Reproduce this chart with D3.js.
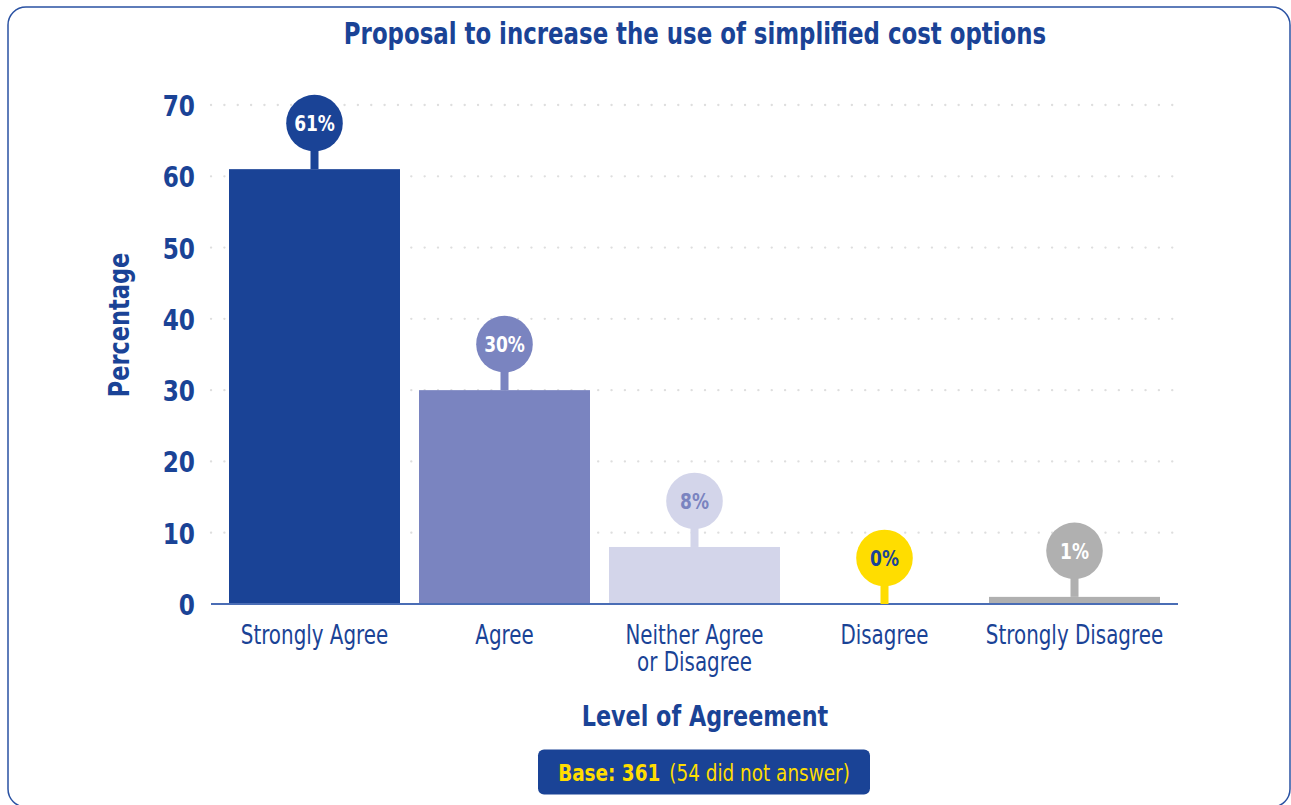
<!DOCTYPE html>
<html>
<head>
<meta charset="utf-8">
<script src="https://cdn.jsdelivr.net/npm/d3@7"></script>
<style>
  html, body { margin: 0; padding: 0; background: #ffffff; }
  svg { display: block; }
  text { font-family: "DejaVu Sans Condensed", "Liberation Sans Narrow", sans-serif; }
</style>
</head>
<body>
<svg id="chart" width="1291" height="805"></svg>
<script>
// ---- data ----
const categories = ["Strongly Agree", "Agree", "Neither Agree\nor Disagree", "Disagree", "Strongly Disagree"];
const values = [61, 30, 8, 0, 1];
const valueLabels = ["61%", "30%", "8%", "0%", "1%"];
const yTicks = [0, 10, 20, 30, 40, 50, 60, 70];
const titleText = "Proposal to increase the use of simplified cost options";
const yTitle = "Percentage";
const xTitle = "Level of Agreement";
const baseBold = "Base: 361";
const baseRest = "(54 did not answer)";

// ---- styles ----
const navy = "#1a4396";
const barColors = ["#1a4396", "#7a84c0", "#d3d5ea", "#ffdd00", "#b0b0b0"];
const bubbleText = ["#ffffff", "#ffffff", "#7a84c0", "#1a4396", "#ffffff"];

// horizontally condense text (reference uses a condensed face)
function squeeze(sel, f) {
  let last = 0;
  sel.each(function() {
    const w = this.getComputedTextLength();
    last = w * f;
    d3.select(this).attr("textLength", w * f).attr("lengthAdjust", "spacingAndGlyphs");
  });
  return last;
}

const svg = d3.select("#chart");

// frame
svg.append("rect")
  .attr("x", 8).attr("y", 7).attr("width", 1282).attr("height", 800)
  .attr("rx", 18).attr("ry", 18)
  .attr("fill", "none").attr("stroke", "#2a52a3").attr("stroke-width", 1.5);

const x = d3.scaleBand().domain(categories).range([219.5, 1169.5])
  .paddingInner(0.1).paddingOuter(0.05);
const y = d3.scaleLinear().domain([0, 70]).range([604, 105]);

// gridlines
svg.append("g").selectAll("line").data(yTicks.filter(d => d > 0)).join("line")
  .attr("x1", 211).attr("x2", 1178)
  .attr("y1", d => y(d)).attr("y2", d => y(d))
  .attr("stroke", "#dedede").attr("stroke-width", 2.3)
  .attr("stroke-linecap", "round")
  .attr("stroke-dasharray", "0.1,13.25");

// bars
svg.append("g").selectAll("rect").data(values).join("rect")
  .attr("x", (d, i) => x(categories[i]))
  .attr("width", x.bandwidth())
  .attr("y", d => y(d))
  .attr("height", d => y(0) - y(d))
  .attr("fill", (d, i) => barColors[i]);

// y axis
const yAxis = svg.append("g").attr("transform", "translate(211,0)")
  .call(d3.axisLeft(y).tickValues(yTicks).tickSize(0).tickPadding(16));
yAxis.select(".domain").remove();
yAxis.selectAll("text")
  .attr("fill", navy).attr("font-size", 29).attr("font-weight", "bold")
  .style("font-family", "'DejaVu Sans Condensed', sans-serif")
  .attr("dy", "0.36em");
squeeze(yAxis.selectAll("text"), 0.89);

// x axis
const xAxis = svg.append("g").attr("transform", "translate(0,604)")
  .call(d3.axisBottom(x).tickSize(0).tickPadding(0));
xAxis.select(".domain").remove();
xAxis.selectAll(".tick").each(function(d) {
  const g = d3.select(this);
  g.select("text").remove();
  d.split("\n").forEach((line, k) => {
    g.append("text")
      .attr("x", 0).attr("y", 39.5 + k * 27)
      .attr("text-anchor", "middle")
      .attr("fill", navy).attr("font-size", 26)
      .style("font-family", "'DejaVu Sans Condensed', sans-serif")
      .text(line);
  });
});
squeeze(xAxis.selectAll("text"), 0.85);

// baseline
svg.append("line")
  .attr("x1", 211).attr("x2", 1178).attr("y1", y(0)).attr("y2", y(0))
  .attr("stroke", "#4a6db5").attr("stroke-width", 2);

// bubbles
const bub = svg.append("g").selectAll("g").data(values).join("g")
  .attr("transform", (d, i) => `translate(${x(categories[i]) + x.bandwidth() / 2},0)`);
bub.append("rect")
  .attr("x", -4).attr("width", 8)
  .attr("y", d => y(d) - 46)
  .attr("height", 46)
  .attr("fill", (d, i) => barColors[i]);
bub.append("circle")
  .attr("cy", d => y(d) - 46)
  .attr("r", 28.3)
  .attr("fill", (d, i) => barColors[i]);
const bubT = bub.append("text")
  .attr("y", d => y(d) - 46)
  .attr("dy", "0.36em")
  .attr("text-anchor", "middle")
  .attr("font-size", 22).attr("font-weight", "bold")
  .attr("fill", (d, i) => bubbleText[i])
  .text((d, i) => valueLabels[i]);
squeeze(bubT, 0.86);

// title
const tt = svg.append("text")
  .attr("x", 695).attr("y", 44.3)
  .attr("text-anchor", "middle")
  .attr("font-size", 31).attr("font-weight", "bold")
  .attr("fill", navy)
  .text(titleText);
squeeze(tt, 0.82);

// y title
const yt = svg.append("text")
  .attr("transform", "translate(129,325) rotate(-90)")
  .attr("text-anchor", "middle")
  .attr("font-size", 29).attr("font-weight", "bold")
  .attr("fill", navy)
  .text(yTitle);
squeeze(yt, 0.86);

// x title
const xt = svg.append("text")
  .attr("x", 705).attr("y", 726)
  .attr("text-anchor", "middle")
  .attr("font-size", 28).attr("font-weight", "bold")
  .attr("fill", navy)
  .text(xTitle);
squeeze(xt, 0.885);

// base box
svg.append("rect")
  .attr("x", 538).attr("y", 749.5).attr("width", 332).attr("height", 45)
  .attr("rx", 6).attr("ry", 6)
  .attr("fill", navy);
const bt1 = svg.append("text")
  .attr("y", 781).attr("font-size", 23).attr("font-weight", "bold")
  .attr("fill", "#ffdd00").text(baseBold);
const bt2 = svg.append("text")
  .attr("y", 781).attr("font-size", 23)
  .attr("fill", "#ffdd00").text(baseRest);
const w1 = squeeze(bt1, 0.89);
const w2 = squeeze(bt2, 0.89);
const gap = 9;
const startX = 704 - (w1 + gap + w2) / 2;
bt1.attr("x", startX);
bt2.attr("x", startX + w1 + gap);
</script>
</body>
</html>
